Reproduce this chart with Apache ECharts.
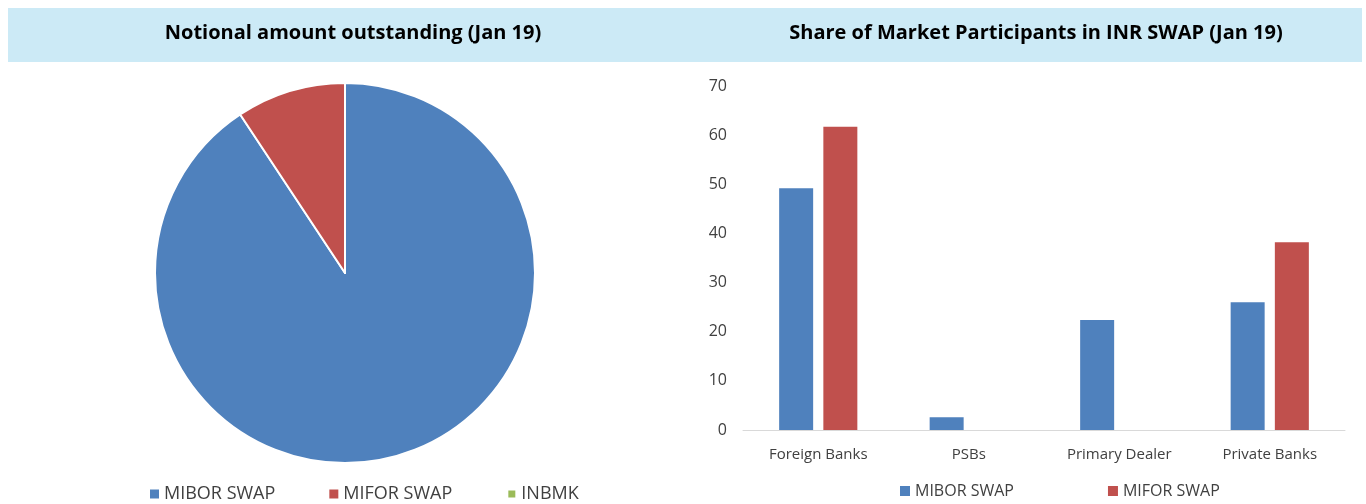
<!DOCTYPE html>
<html>
<head>
<meta charset="utf-8">
<script src="https://cdn.jsdelivr.net/npm/echarts@6/dist/echarts.min.js"></script>
<style>
  html, body { margin: 0; padding: 0; background: #fff; }
  #chart { width: 1366px; height: 504px; }
</style>
</head>
<body>
<div id="chart"></div>
<script>
// pie: notional amount outstanding (share, %)
var pieNames = ['MIBOR SWAP', 'MIFOR SWAP', 'INBMK']
var pieValues = [90.7, 9.3, 0]

// bars: share of market participants
var categories = ['Foreign Banks', 'PSBs', 'Primary Dealer', 'Private Banks']
var miborShare = [49.2, 2.6, 22.4, 26.0]
var miforShare = [61.7, 0, 0, 38.2]

var colors = ['#4F81BD', '#C0504D', '#9BBB59']

var chart = echarts.init(document.getElementById('chart'))
var option = {
  animation: false,
  graphic: [
    {
      type: 'rect',
      shape: { x: 8, y: 8, width: 1354, height: 54 },
      style: { fill: '#CCEAF6' },
      z: -1
    }
  ],
  title: [
    {
      text: 'Notional amount outstanding (Jan 19)',
      left: 348, top: 18, textAlign: 'center',
      textStyle: { fontFamily: 'Open Sans', fontWeight: 'bold', fontSize: 20, color: '#000' }
    },
    {
      text: 'Share of Market Participants in INR SWAP (Jan 19)',
      left: 1031, top: 18, textAlign: 'center',
      textStyle: { fontFamily: 'Open Sans', fontWeight: 'bold', fontSize: 20, color: '#000' }
    }
  ],
  legend: [
    {
      data: pieNames,
      left: 150, top: 485, padding: 0,
      icon: 'rect', itemWidth: 9, itemHeight: 9, itemGap: 54,
      textStyle: { fontFamily: 'Open Sans', fontSize: 18, color: '#404040' }
    },
    {
      data: ['MIBOR SWAP', 'MIFOR SWAP'],
      left: 900, top: 483, padding: 0,
      icon: 'rect', itemWidth: 10, itemHeight: 10, itemGap: 94,
      textStyle: { fontFamily: 'Open Sans', fontSize: 16, color: '#404040' }
    }
  ],
  grid: { left: 743, right: 21, top: 86, bottom: 74 },
  xAxis: {
    type: 'category',
    data: categories,
    axisLine: { lineStyle: { color: '#D9D9D9' } },
    axisTick: { show: false },
    axisLabel: { fontFamily: 'Open Sans', fontSize: 15, color: '#404040', margin: 17 }
  },
  yAxis: {
    type: 'value',
    min: 0, max: 70, interval: 10,
    axisLine: { show: false },
    axisTick: { show: false },
    splitLine: { show: false },
    axisLabel: { fontFamily: 'Open Sans', fontSize: 16, color: '#404040', margin: 16 }
  },
  series: [
    {
      type: 'pie',
      name: 'Notional',
      center: [345, 273],
      radius: 190,
      startAngle: 90,
      label: { show: false },
      labelLine: { show: false },
      itemStyle: { borderColor: '#fff', borderWidth: 2 },
      data: pieNames.map(function (n, i) {
        return { name: n, value: pieValues[i], itemStyle: { color: colors[i] } }
      })
    },
    {
      type: 'bar',
      name: 'MIBOR SWAP',
      data: miborShare,
      barWidth: 34,
      barGap: '30%',
      itemStyle: { color: colors[0] }
    },
    {
      type: 'bar',
      name: 'MIFOR SWAP',
      data: miforShare,
      barWidth: 34,
      itemStyle: { color: colors[1] }
    }
  ]
}
chart.setOption(option)
</script>
</body>
</html>
